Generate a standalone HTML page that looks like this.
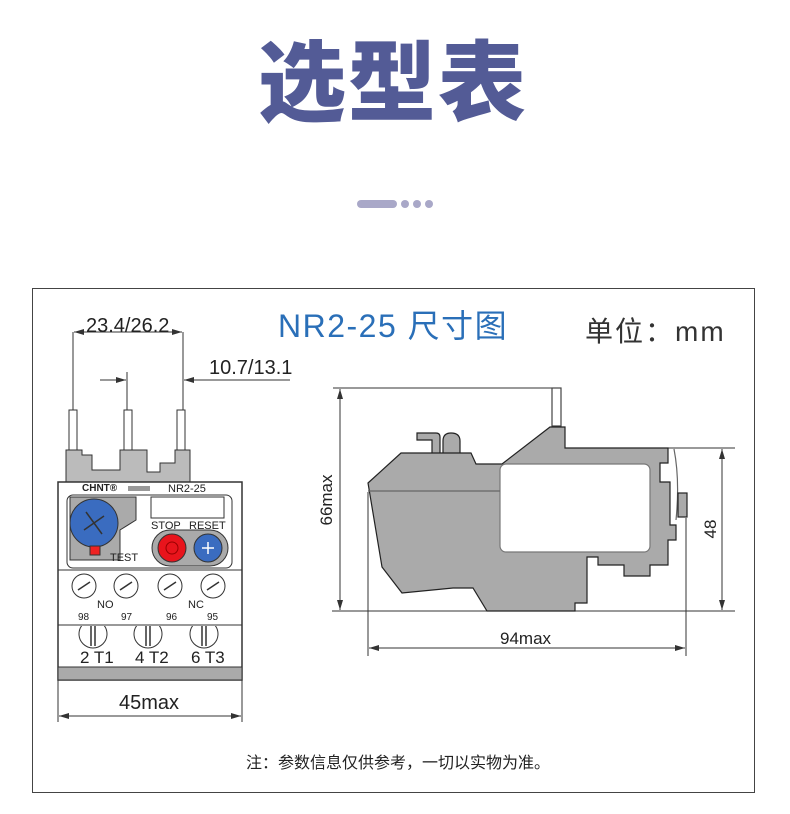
<!DOCTYPE html>
<html><head><meta charset="utf-8"><style>
html,body{margin:0;padding:0;background:#fff;width:790px;height:814px;overflow:hidden}
svg{display:block}
text{font-family:"Liberation Sans","Noto Sans CJK SC",sans-serif}
</style></head><body>
<svg width="790" height="814" viewBox="0 0 790 814" xmlns="http://www.w3.org/2000/svg">
<defs>
<marker id="a" viewBox="0 0 10 6" refX="10" refY="3" markerWidth="10" markerHeight="6" orient="auto-start-reverse" markerUnits="userSpaceOnUse"><path d="M0,0L10,3L0,6z" fill="#333"/></marker>
<clipPath id="lc"><rect x="58" y="626" width="184" height="41"/></clipPath>
</defs>
<text x="393" y="114" text-anchor="middle" font-size="88" font-weight="900" fill="#535b96" style="font-family:'Noto Sans CJK SC',sans-serif;letter-spacing:2px">选型表</text>
<rect x="357" y="200" width="40" height="8" rx="4" fill="#a9a8c8"/>
<circle cx="405" cy="204" r="4" fill="#a9a8c8"/><circle cx="417" cy="204" r="4" fill="#a9a8c8"/><circle cx="429" cy="204" r="4" fill="#a9a8c8"/>
<rect x="32.5" y="288.5" width="722" height="504" fill="none" stroke="#444" stroke-width="1"/>
<text x="278" y="337" font-size="32" fill="#2a6fb8" letter-spacing="1.5">NR2-25 尺寸图</text>
<text x="585" y="341" font-size="28" fill="#333" letter-spacing="2">单位：mm</text>
<text x="398" y="768" text-anchor="middle" font-size="16" fill="#222">注：参数信息仅供参考，一切以实物为准。</text>

<!-- left device dims -->
<g stroke="#333" stroke-width="1" fill="none">
<line x1="73" y1="332" x2="73" y2="412"/><line x1="183" y1="332" x2="183" y2="412"/>
<line x1="74" y1="332" x2="182" y2="332" marker-start="url(#a)" marker-end="url(#a)"/>
<line x1="127" y1="372" x2="127" y2="412"/>
<line x1="100" y1="380" x2="126" y2="380" marker-end="url(#a)"/>
<line x1="290" y1="380" x2="184" y2="380" marker-end="url(#a)"/>
<line x1="58" y1="680" x2="58" y2="722"/><line x1="242" y1="680" x2="242" y2="722"/>
<line x1="59" y1="716" x2="241" y2="716" marker-start="url(#a)" marker-end="url(#a)"/>
</g>
<text x="86" y="332" font-size="20" fill="#222">23.4/26.2</text>
<text x="209" y="374" font-size="20" fill="#222">10.7/13.1</text>
<text x="119" y="709" font-size="20" fill="#222">45max</text>

<!-- left device -->
<g stroke="#333" stroke-width="1">
<rect x="69" y="410" width="8" height="42" fill="#fff"/><rect x="124" y="410" width="8" height="42" fill="#fff"/><rect x="177" y="410" width="8" height="42" fill="#fff"/>
<path d="M66,450H82V455H92V470H120V450H147V472H160V463H175V450H190V482H66Z" fill="#bbb"/>
<rect x="58" y="482" width="184" height="198" fill="#fff" stroke-width="1.5"/>
<rect x="67" y="495" width="165" height="73" rx="6" fill="#fff"/>
<path d="M70,497H136V520L120,530V560H70Z" fill="#aaa"/>
<circle cx="94" cy="523" r="24" fill="#3a6cc0"/>
<rect x="90" y="546" width="10" height="9" fill="#e22"/>
<rect x="151" y="497" width="73" height="21" fill="#fff"/>
<rect x="152" y="530" width="76" height="36" rx="18" fill="#aaa"/>
<circle cx="172" cy="548" r="14" fill="#e8141c"/>
<circle cx="172" cy="548" r="6" fill="none" stroke="#900"/>
<circle cx="208" cy="548" r="14" fill="#3a6cc0"/>
<line x1="58" y1="570" x2="242" y2="570"/>
<line x1="58" y1="625" x2="242" y2="625"/>
<rect x="58" y="667" width="184" height="13" fill="#aaa"/>
<g fill="#fff">
<circle cx="84" cy="586" r="12"/><circle cx="126" cy="586" r="12"/><circle cx="170" cy="586" r="12"/><circle cx="213" cy="586" r="12"/>
</g>
<g fill="#fff" clip-path="url(#lc)">
<circle cx="93" cy="634" r="14"/><circle cx="148" cy="634" r="14"/><circle cx="204" cy="634" r="14"/>
</g>
<g stroke-width="1.5"><line x1="86" y1="512" x2="102" y2="534"/><line x1="84" y1="530" x2="104" y2="516"/>
<line x1="202" y1="548" x2="214" y2="548" stroke="#fff"/><line x1="208" y1="542" x2="208" y2="554" stroke="#fff"/>
<line x1="78" y1="590" x2="90" y2="582"/><line x1="120" y1="590" x2="132" y2="582"/><line x1="164" y1="590" x2="176" y2="582"/><line x1="207" y1="590" x2="219" y2="582"/>
<line x1="91" y1="626" x2="91" y2="646"/><line x1="95" y1="626" x2="95" y2="646"/><line x1="146" y1="626" x2="146" y2="646"/><line x1="150" y1="626" x2="150" y2="646"/><line x1="202" y1="626" x2="202" y2="646"/><line x1="206" y1="626" x2="206" y2="646"/></g>
</g>
<text x="82" y="491" font-size="10" font-weight="bold" fill="#222">CHNT®</text>
<rect x="128" y="486" width="22" height="5" fill="#999"/>
<text x="168" y="492" font-size="11" fill="#222">NR2-25</text>
<text x="110" y="561" font-size="11" fill="#222">TEST</text>
<text x="151" y="529" font-size="11" fill="#222">STOP</text>
<text x="189" y="529" font-size="11" fill="#222">RESET</text>
<text x="97" y="608" font-size="11" fill="#222">NO</text>
<text x="188" y="608" font-size="11" fill="#222">NC</text>
<g font-size="10" fill="#222"><text x="78" y="620">98</text><text x="121" y="620">97</text><text x="166" y="620">96</text><text x="207" y="620">95</text></g>
<g font-size="17" fill="#222"><text x="80" y="663">2  T1</text><text x="135" y="663">4  T2</text><text x="191" y="663">6  T3</text></g>

<!-- right device dims -->
<g stroke="#333" stroke-width="1" fill="none">
<line x1="333" y1="388" x2="556" y2="388"/>
<line x1="332" y1="611" x2="735" y2="611"/>
<line x1="340" y1="389" x2="340" y2="610" marker-start="url(#a)" marker-end="url(#a)"/>
<line x1="668" y1="448" x2="735" y2="448"/>
<line x1="722" y1="449" x2="722" y2="610" marker-start="url(#a)" marker-end="url(#a)"/>
<line x1="368" y1="492" x2="368" y2="656"/><line x1="686" y1="518" x2="686" y2="656"/>
<line x1="369" y1="648" x2="685" y2="648" marker-start="url(#a)" marker-end="url(#a)"/>
</g>
<text transform="translate(332,500) rotate(-90)" text-anchor="middle" font-size="17" fill="#222">66max</text>
<text transform="translate(716,529) rotate(-90)" text-anchor="middle" font-size="17" fill="#222">48</text>
<text x="500" y="644" font-size="17" fill="#222">94max</text>

<g stroke="#222" stroke-width="1.2">
<rect x="552" y="388" width="9" height="38" fill="#fff" stroke="#444"/>
<path d="M417,433H436Q440,433 440,437V454H432V440H417Z" fill="#aaa"/>
<path d="M443,454V441Q443,433 451,433Q460,433 460,441V454Z" fill="#aaa"/>
<path d="M368,483L401,453H471L476,464H502L550,427H565V448H668V463H660V482H670V525H676V540H668V565H650V576H624V565H598V557H587V603H575L575,611H487L473,588L453,588L402,593L382,567Z" fill="#aaa"/>
<rect x="500" y="464" width="150" height="88" rx="6" fill="#fff" stroke="#777"/>
<line x1="368" y1="491" x2="500" y2="491" stroke="#666"/>
<path d="M674,449Q680,480 676,520" fill="none" stroke="#666"/>
<rect x="678" y="493" width="9" height="24" fill="#aaa"/>
</g>
</svg>
</body></html>
